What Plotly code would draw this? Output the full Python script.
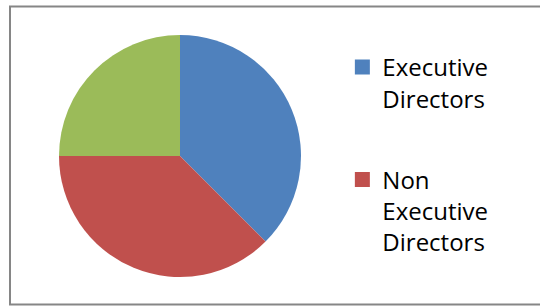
import plotly.graph_objects as go

labels = ["Executive Directors", "Non Executive Directors", "Other"]
values = [3, 3, 2]
colors = ["#4F81BD", "#C0504D", "#9BBB59"]
legend_names = ["Executive<br>Directors", "Non<br>Executive<br>Directors"]

W, H = 540, 306

fig = go.Figure()
fig.add_trace(go.Pie(
    labels=labels, values=values, sort=False, direction="clockwise", rotation=0,
    marker=dict(colors=colors, line=dict(width=0)),
    textinfo="none", hoverinfo="label+percent", showlegend=False,
    domain=dict(x=[59 / W, 301 / W], y=[(H - 277) / H, (H - 35) / H]),
))
for i, name in enumerate(legend_names):
    fig.add_trace(go.Scatter(
        x=[None], y=[None], mode="markers", name=name,
        marker=dict(symbol="square", size=15, color=colors[i]),
        legendgroup=f"g{i}", showlegend=True,
    ))

fig.update_layout(
    width=W, height=H, margin=dict(l=0, r=0, t=0, b=0),
    paper_bgcolor="white", plot_bgcolor="white",
    xaxis=dict(visible=False), yaxis=dict(visible=False),
    font=dict(family="Open Sans", color="black"),
    legend=dict(x=0.634, y=(H - 45) / H, xanchor="left", yanchor="top",
                font=dict(size=24, family="Open Sans", color="black"),
                valign="top", tracegroupgap=47, bgcolor="rgba(0,0,0,0)"),
    shapes=[dict(type="rect", xref="paper", yref="paper",
                 x0=10 / W, x1=1.1, y0=1.5 / H, y1=(H - 6.5) / H,
                 line=dict(color="#868686", width=2), fillcolor="rgba(0,0,0,0)")],
)
fig.write_html("out.html", config={"displayModeBar": False},
               post_script="document.body.style.margin='0';document.body.style.overflow='hidden';")
